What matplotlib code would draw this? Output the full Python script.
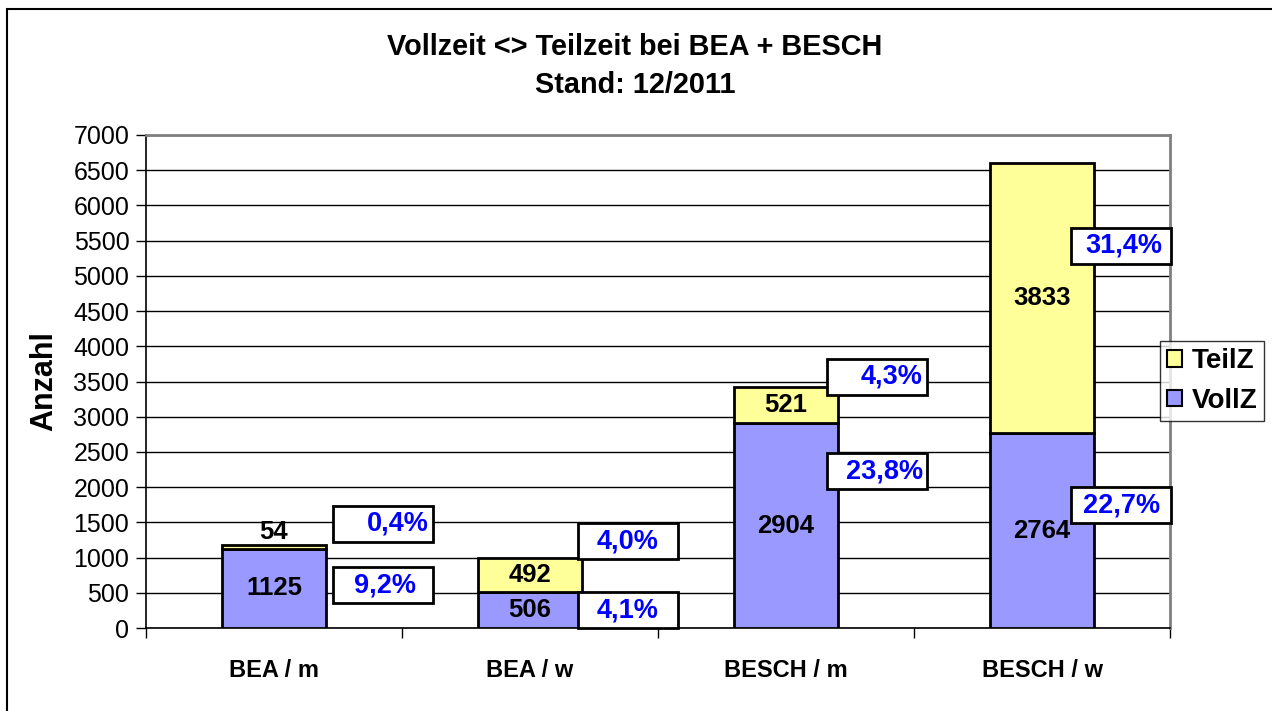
import matplotlib
matplotlib.use("Agg")
import matplotlib.pyplot as plt
from matplotlib.patches import Rectangle, Patch
import numpy as np

categories = ["BEA / m", "BEA / w", "BESCH / m", "BESCH / w"]
vollz = [1125, 506, 2904, 2764]
teilz = [54, 492, 521, 3833]
vollz_pct = ["9,2%", "4,1%", "23,8%", "22,7%"]
teilz_pct = ["0,4%", "4,0%", "4,3%", "31,4%"]
y_ticks = list(range(0, 7001, 500))

# label box positions (data coords) and text offsets (category units)
teil_box_y = [1477, 1235, 3564, 5424]
voll_box_y = [610, 255, 2229, 1746]
box_dx = [0.425, 0.383, 0.355, 0.31]
teil_txt_dx = [0.059, 0.0, 0.059, 0.008]
voll_txt_dx = [0.008, 0.0, 0.031, 0.0]

plt.rcParams['font.family'] = ['Liberation Sans', 'DejaVu Sans']

W, H = 1272, 711
fig = plt.figure(figsize=(W / 100, H / 100), dpi=100)
ax = fig.add_axes([146 / W, 1 - 628 / H, (1170 - 146) / W, (628 - 135) / H])

# outer frame
fig.patches.append(Rectangle((7 / W, -0.05), 1.1, 1 - 9 / H + 0.05, transform=fig.transFigure,
                             fill=False, edgecolor='black', linewidth=1.5, zorder=0))

x = np.arange(len(categories))
bw = 0.406
blue = '#9999FF'
yellow = '#FFFF99'
ax.bar(x, vollz, bw, color=blue, edgecolor='black', linewidth=2, zorder=3)
ax.bar(x, teilz, bw, bottom=vollz, color=yellow, edgecolor='black', linewidth=2, zorder=3)

ax.set_xlim(-0.5, 3.5)
ax.set_ylim(0, 7000)
ax.set_yticks(y_ticks)
ax.set_yticklabels([str(t) for t in y_ticks], fontsize=18)
ax.set_xticks(x)
ax.set_xticklabels(categories, fontsize=17, fontweight='bold')
ax.set_xticks(np.arange(-0.5, 4.0, 1.0), minor=True)
ax.tick_params(axis='x', which='major', length=0, pad=22)
ax.tick_params(axis='x', which='minor', length=7, width=1, direction='out')
ax.tick_params(axis='y', length=7, width=1, direction='out', pad=5)

ax.grid(axis='y', color='black', linewidth=1, zorder=0)
ax.set_axisbelow(True)
for s in ['top', 'right']:
    ax.spines[s].set_color('#808080')
    ax.spines[s].set_linewidth(2)
for s in ['left', 'bottom']:
    ax.spines[s].set_color('black')
    ax.spines[s].set_linewidth(1.2)

ax.set_ylabel("Anzahl", fontsize=22, fontweight='bold', labelpad=10)

# value labels
for i in range(len(categories)):
    ax.text(x[i], vollz[i] / 2, str(vollz[i]), ha='center', va='center',
            fontsize=18.5, fontweight='bold', zorder=5)
    if teilz[i] < 200:
        ax.text(x[i], vollz[i] + teilz[i] + 20, str(teilz[i]), ha='center', va='bottom',
                fontsize=18.5, fontweight='bold', zorder=5)
    else:
        ax.text(x[i], vollz[i] + teilz[i] / 2, str(teilz[i]), ha='center', va='center',
                fontsize=18.5, fontweight='bold', zorder=5)

# percentage boxes
box_w = 0.39
box_h = 511
for i in range(len(categories)):
    for yc, lab, tdx in ((teil_box_y[i], teilz_pct[i], teil_txt_dx[i]),
                         (voll_box_y[i], vollz_pct[i], voll_txt_dx[i])):
        cx = x[i] + box_dx[i]
        ax.add_patch(Rectangle((cx - box_w / 2, yc - box_h / 2), box_w, box_h,
                               facecolor='white', edgecolor='black', linewidth=2, zorder=6,
                               clip_on=False))
        ax.text(cx + tdx, yc, lab, ha='center', va='center', color='#0000FF',
                fontsize=19.5, fontweight='bold', zorder=7, clip_on=False)

# title
fig.text(635 / W, 1 - 47 / H, "Vollzeit <> Teilzeit bei BEA + BESCH", ha='center', va='center',
         fontsize=20.8, fontweight='bold')
fig.text(635 / W, 1 - 85 / H, "Stand: 12/2011", ha='center', va='center',
         fontsize=20.8, fontweight='bold')

# legend
handles = [Patch(facecolor=yellow, edgecolor='black', linewidth=1.5, label='TeilZ'),
           Patch(facecolor=blue, edgecolor='black', linewidth=1.5, label='VollZ')]
leg = fig.legend(handles=handles, loc='center', bbox_to_anchor=(1212 / W, 1 - 381 / H),
                 frameon=True, fancybox=False, edgecolor='black', handlelength=0.55,
                 handleheight=0.55, handletextpad=0.35, borderpad=0.25, labelspacing=0.5,
                 borderaxespad=0, prop={'weight': 'bold', 'size': 20})
leg.get_frame().set_linewidth(1)

fig.savefig("out.png", dpi=100)
